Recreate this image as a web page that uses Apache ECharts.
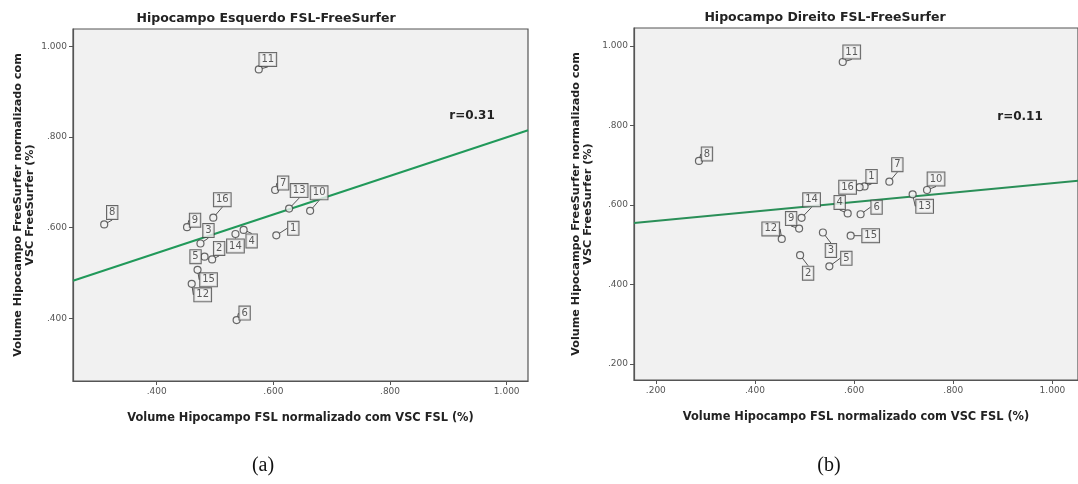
<!DOCTYPE html>
<html>
<head>
<meta charset="utf-8">
<script src="https://cdn.jsdelivr.net/npm/echarts@6/dist/echarts.min.js"></script>
<style>
  html, body { margin: 0; padding: 0; background: #fff; }
  #chart { width: 1078px; height: 484px; }
</style>
</head>
<body>
<div id="chart"></div>
<script>
// sujeitos 1..16
const ids = ["1", "2", "3", "4", "5", "6", "7", "8", "9", "10", "11", "12", "13", "14", "15", "16"];

// (a) hipocampo esquerdo
const leftFsl = [0.605, 0.495, 0.475, 0.549, 0.482, 0.537, 0.603, 0.310, 0.452, 0.663, 0.575, 0.460, 0.627, 0.535, 0.470, 0.497];
const leftFreeSurfer = [0.583, 0.530, 0.565, 0.595, 0.536, 0.396, 0.683, 0.607, 0.601, 0.637, 0.949, 0.476, 0.642, 0.586, 0.507, 0.622];
const leftFit = [[0.2565, 0.483], [1.0366, 0.815]];
const leftR = "r=0.31";

// (b) hipocampo direito
const rightFsl = [0.621, 0.491, 0.537, 0.587, 0.550, 0.613, 0.671, 0.287, 0.489, 0.747, 0.577, 0.454, 0.718, 0.494, 0.593, 0.611];
const rightFreeSurfer = [0.647, 0.474, 0.531, 0.579, 0.446, 0.577, 0.659, 0.711, 0.541, 0.638, 0.960, 0.515, 0.627, 0.568, 0.523, 0.645];
const rightFit = [[0.156, 0.555], [1.052, 0.661]];
const rightR = "r=0.11";

// ticks
const leftXTicks = [0.4, 0.6, 0.8, 1.0];
const leftYTicks = [0.4, 0.6, 0.8, 1.0];
const rightXTicks = [0.2, 0.4, 0.6, 0.8, 1.0];
const rightYTicks = [0.2, 0.4, 0.6, 0.8, 1.0];

// deslocamento das etiquetas (px)
const leftLabelShift = [[17, -7], [7, -11], [8, -13], [8, 11], [-9, 0], [8, -7], [8, -7], [8, -12], [8, -7], [9, -18], [9, -10], [11, 11], [10, -18], [0, 12], [11, 10], [9, -18]];
const rightLabelShift = [[7, -10], [8, 18], [8, 18], [-8, -11], [17, -8], [16, -7], [8, -17], [8, -7], [-8, -10], [9, -11], [9, -10], [-11, -10], [12, 12], [10, -18], [20, 0], [-12, 0]];

const font = "DejaVu Sans";
const fmt = (v) => v.toFixed(3).replace(/^0/, "");

const xName = "Volume Hipocampo FSL normalizado com VSC FSL (%)";
const yName = "Volume Hipocampo FreeSurfer normalizado com\nVSC FreeSurfer (%)";

function makeX(gridIndex, min, max, ticks) {
  return {
    type: "value",
    gridIndex,
    min,
    max,
    name: xName,
    nameLocation: "middle",
    nameGap: 32,
    nameTextStyle: { fontFamily: font, fontSize: 11.4, fontWeight: "bold", color: "#222" },
    axisLine: { show: true, lineStyle: { color: "#555", width: 1.2 } },
    axisTick: { show: true, length: 4, lineStyle: { color: "#555" }, customValues: ticks },
    axisLabel: { fontFamily: font, fontSize: 9, color: "#555", margin: 6, customValues: ticks, formatter: fmt },
    splitLine: { show: false },
  };
}

function makeY(gridIndex, min, max, ticks, gap) {
  return {
    type: "value",
    gridIndex,
    min,
    max,
    name: yName,
    nameLocation: "middle",
    nameGap: gap,
    nameTextStyle: { fontFamily: font, fontSize: 11.2, fontWeight: "bold", color: "#222", lineHeight: 12 },
    axisLine: { show: true, lineStyle: { color: "#555", width: 1.2 } },
    axisTick: { show: true, length: 4, lineStyle: { color: "#555" }, customValues: ticks },
    axisLabel: { fontFamily: font, fontSize: 9, color: "#555", margin: 6, customValues: ticks, formatter: fmt },
    splitLine: { show: false },
  };
}

function makeScatter(idx, xs, ys, shifts) {
  return {
    type: "scatter",
    xAxisIndex: idx,
    yAxisIndex: idx,
    symbol: "circle",
    symbolSize: 7,
    itemStyle: { color: "#f1f1f1", borderColor: "#444", borderWidth: 1.2 },
    label: {
      show: true,
      position: "inside",
      formatter: "{b}",
      fontFamily: font,
      fontSize: 10,
      color: "#333",
      backgroundColor: "#f4f4f4",
      borderColor: "#444",
      borderWidth: 1,
      padding: [2, 2, 1, 2],
    },
    labelLine: { show: true, lineStyle: { color: "#555", width: 1 } },
    labelLayout: (p) => ({ dx: shifts[p.dataIndex][0], dy: shifts[p.dataIndex][1] }),
    data: ids.map((id, i) => ({ name: id, value: [xs[i], ys[i]] })),
    z: 3,
  };
}

function makeFit(idx, pts, color) {
  return {
    type: "line",
    xAxisIndex: idx,
    yAxisIndex: idx,
    data: pts,
    showSymbol: false,
    silent: true,
    lineStyle: { color, width: 2 },
    z: 2,
  };
}

const option = {
  backgroundColor: "#fff",
  animation: false,
  grid: [
    { left: 73, top: 29, width: 455, height: 352, show: true, backgroundColor: "#f1f1f1", borderColor: "#555", borderWidth: 1.2 },
    { left: 634, top: 28, right: -12, height: 352, show: true, backgroundColor: "#f1f1f1", borderColor: "#555", borderWidth: 1.2 },
  ],
  xAxis: [
    makeX(0, 0.2565, 1.0365, leftXTicks),
    makeX(1, 0.156, 1.0515, rightXTicks),
  ],
  yAxis: [
    makeY(0, 0.2617, 1.0382, leftYTicks, 37),
    makeY(1, 0.16, 1.0455, rightYTicks, 40),
  ],
  series: [
    makeFit(0, leftFit, "#21995a"),
    makeScatter(0, leftFsl, leftFreeSurfer, leftLabelShift),
    makeFit(1, rightFit, "#2a8f58"),
    makeScatter(1, rightFsl, rightFreeSurfer, rightLabelShift),
  ],
  graphic: [
    { type: "text", x: 266, y: 19, style: { text: "Hipocampo Esquerdo FSL-FreeSurfer", font: "bold 12.5px 'DejaVu Sans'", fill: "#222", align: "center", verticalAlign: "middle" } },
    { type: "text", x: 825, y: 18, style: { text: "Hipocampo Direito FSL-FreeSurfer", font: "bold 12.5px 'DejaVu Sans'", fill: "#222", align: "center", verticalAlign: "middle" } },
    { type: "text", x: 472, y: 116, z: 10, style: { text: leftR, font: "bold 12px 'DejaVu Sans'", fill: "#222", align: "center", verticalAlign: "middle" } },
    { type: "text", x: 1020, y: 117, z: 10, style: { text: rightR, font: "bold 12px 'DejaVu Sans'", fill: "#222", align: "center", verticalAlign: "middle" } },
    { type: "text", x: 263, y: 466, style: { text: "(a)", font: "20px 'Liberation Serif'", fill: "#111", align: "center", verticalAlign: "middle" } },
    { type: "text", x: 829, y: 466, style: { text: "(b)", font: "20px 'Liberation Serif'", fill: "#111", align: "center", verticalAlign: "middle" } },
  ],
};

const chart = echarts.init(document.getElementById("chart"));
chart.setOption(option);
</script>
</body>
</html>
